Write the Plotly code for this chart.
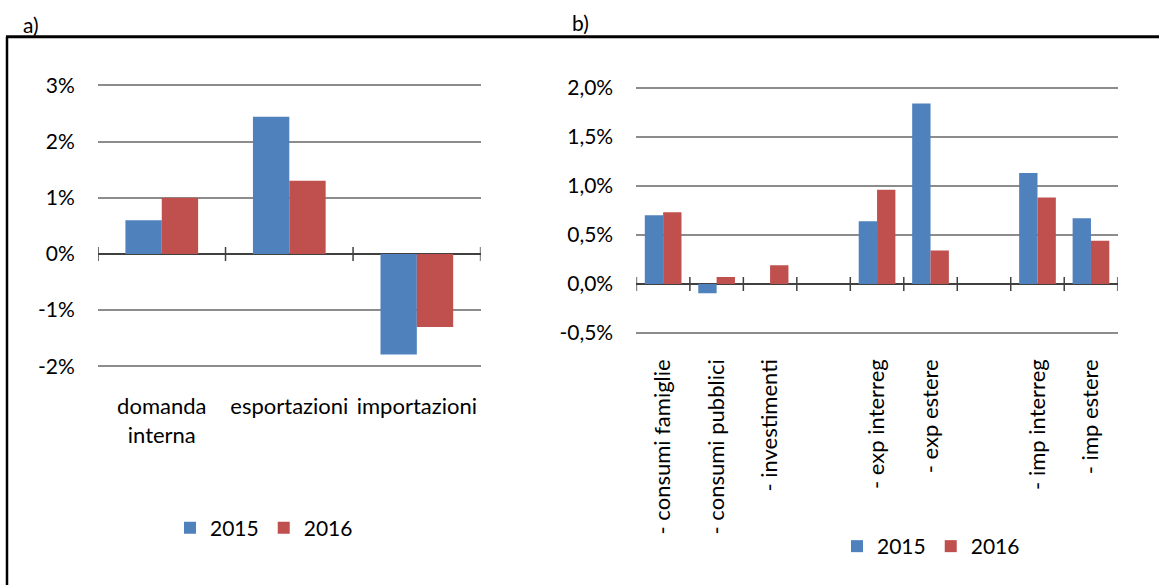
import plotly.graph_objects as go

# ---------------- data ----------------
series = ["2015", "2016"]
colors = ["#4F81BD", "#C0504D"]

cat_a = ["domanda<br>interna", "esportazioni", "importazioni"]
a_2015 = [0.60, 2.44, -1.79]
a_2016 = [1.00, 1.30, -1.30]
a_tickvals = [-2, -1, 0, 1, 2, 3]
a_ticktext = ["-2%", "-1%", "0%", "1%", "2%", "3%"]

cat_b = ["- consumi famiglie", "- consumi pubblici", "- investimenti", "",
         "- exp interreg", "- exp estere", "", "- imp interreg", "- imp estere"]
b_2015 = [0.70, -0.095, 0.0, None, 0.64, 1.84, None, 1.13, 0.67]
b_2016 = [0.73, 0.071, 0.19, None, 0.96, 0.34, None, 0.88, 0.44]
b_tickvals = [-0.5, 0.0, 0.5, 1.0, 1.5, 2.0]
b_ticktext = ["-0,5%", "0,0%", "0,5%", "1,0%", "1,5%", "2,0%"]

panel_labels = ["a)", "b)"]

# ---------------- figure ----------------
W, H = 1159, 585
FONT = "Lato"
FS = 21
FS_CAT = 22
GRID = "#8C8C8C"
AXIS = "#404040"
GAP_A = 0.43
GAP_B = 0.314

xa = list(range(len(cat_a)))
xb = list(range(len(cat_b)))

fig = go.Figure()
wa = (1 - GAP_A) / 2
for k, (name, vals, col) in enumerate(zip(series, [a_2015, a_2016], colors)):
    fig.add_trace(go.Bar(x=xa, y=vals, name=name, marker=dict(color=col, line=dict(width=0)),
                         width=wa, offset=-wa + k * wa,
                         xaxis="x", yaxis="y", legend="legend"))
wb = (1 - GAP_B) / 2
for k, (name, vals, col) in enumerate(zip(series, [b_2015, b_2016], colors)):
    fig.add_trace(go.Bar(x=xb, y=vals, name=name, marker=dict(color=col, line=dict(width=0)),
                         width=wb, offset=-wb + k * wb,
                         xaxis="x2", yaxis="y2", legend="legend2"))


def px_x(p):
    return p / W


def px_y(p):
    return 1 - p / H


def padded(lo, hi, top_px, bot_px, pad_px=1.5):
    """Return (range, domain) so that lo/hi sit exactly at bot_px/top_px while
    the range is padded a little so the edge gridlines are drawn."""
    per_px = (hi - lo) / (bot_px - top_px)
    d = pad_px * per_px
    return [lo - d, hi + d], [px_y(bot_px + pad_px), px_y(top_px - pad_px)]


ya_range, ya_dom = padded(-2, 3, 85.3, 366.3)
yb_range, yb_dom = padded(-0.5, 2.0, 87.7, 333.0)

shapes = []
# category-boundary tick marks crossing the zero axis
for xref, yref, n in [("x", "y", len(cat_a)), ("x2", "y2", len(cat_b))]:
    for i in range(n + 1):
        shapes.append(dict(type="line", xref=xref, yref=yref, x0=i - 0.5, x1=i - 0.5,
                           ysizemode="pixel", yanchor=0, y0=-7, y1=7,
                           line=dict(color=AXIS, width=1.5)))
# outer frame (top and left)
shapes.append(dict(type="line", xref="paper", yref="paper", x0=px_x(6), x1=1.0,
                   y0=px_y(36.7), y1=px_y(36.7), line=dict(color="black", width=3)))
shapes.append(dict(type="line", xref="paper", yref="paper", x0=px_x(7), x1=px_x(7),
                   y0=px_y(36.7), y1=0, line=dict(color="black", width=2.5)))

annotations = [
    dict(text=panel_labels[0], xref="paper", yref="paper", x=px_x(21), y=px_y(25),
         xanchor="left", yanchor="middle", showarrow=False, font=dict(size=FS)),
    dict(text=panel_labels[1], xref="paper", yref="paper", x=px_x(570), y=px_y(23),
         xanchor="left", yanchor="middle", showarrow=False, font=dict(size=FS)),
]

fig.update_layout(
    width=W, height=H,
    margin=dict(l=0, r=0, t=0, b=0, autoexpand=False),
    paper_bgcolor="white", plot_bgcolor="white",
    font=dict(family=FONT, size=FS, color="black"),
    hovermode=False,
    shapes=shapes,
    annotations=annotations,
    xaxis=dict(domain=[px_x(98), px_x(480.6)], range=[-0.5, len(cat_a) - 0.5],
               tickvals=xa, ticktext=cat_a, tickangle=0, tickfont=dict(size=FS_CAT),
               ticks="outside", ticklen=19, tickcolor="rgba(0,0,0,0)",
               showgrid=False, showline=False, zeroline=False, anchor="y",
               automargin=False),
    yaxis=dict(domain=ya_dom, range=ya_range,
               tickvals=a_tickvals, ticktext=a_ticktext,
               ticks="outside", ticklen=18, tickcolor="rgba(0,0,0,0)",
               showgrid=True, gridcolor=GRID, gridwidth=1.5,
               zeroline=True, zerolinecolor=AXIS, zerolinewidth=1.5,
               showline=False, anchor="x", automargin=False),
    xaxis2=dict(domain=[px_x(636.4), px_x(1117.7)], range=[-0.5, len(cat_b) - 0.5],
                tickvals=xb, ticktext=cat_b, tickangle=-90, tickfont=dict(size=FS_CAT),
                ticks="outside", ticklen=15, tickcolor="rgba(0,0,0,0)",
                showgrid=False, showline=False, zeroline=False, anchor="y2",
                automargin=False),
    yaxis2=dict(domain=yb_dom, range=yb_range,
                tickvals=b_tickvals, ticktext=b_ticktext,
                ticks="outside", ticklen=18, tickcolor="rgba(0,0,0,0)",
                showgrid=True, gridcolor=GRID, gridwidth=1.5,
                zeroline=True, zerolinecolor=AXIS, zerolinewidth=1.5,
                showline=False, anchor="x2", automargin=False),
    legend=dict(orientation="h", x=px_x(264), y=px_y(528), xanchor="center", yanchor="middle",
                font=dict(size=FS), bgcolor="rgba(0,0,0,0)"),
    legend2=dict(orientation="h", x=px_x(931), y=px_y(546.5), xanchor="center", yanchor="middle",
                 font=dict(size=FS), bgcolor="rgba(0,0,0,0)"),
)

fig.write_html("out.html",
               config={"displayModeBar": False},
               post_script="document.body.style.margin='0';document.body.style.overflow='hidden';")
